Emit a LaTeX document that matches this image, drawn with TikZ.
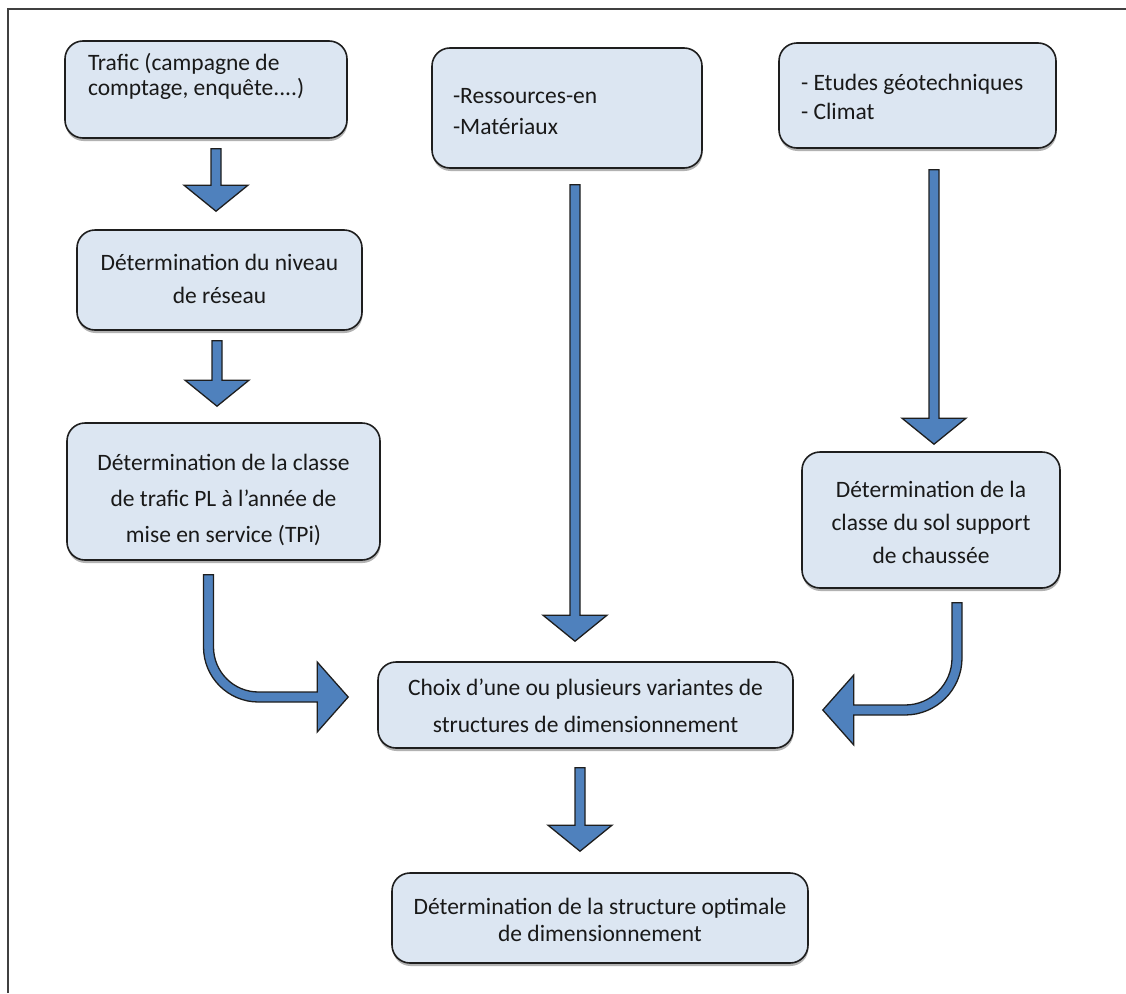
\documentclass[tikz,border=0pt]{standalone}
\usepackage{fontspec}
\setmainfont{Carlito}
\usetikzlibrary{calc,shadows}

\definecolor{fondboite}{RGB}{220,230,242}
\definecolor{bleufleche}{RGB}{79,129,189}
\definecolor{trait}{RGB}{30,30,30}

% hauteur, largeur, interligne, premiere ligne, alignement, texte
\newcommand{\bloc}[6]{\parbox[c][#1pt][t]{#2pt}{\fontsize{23.5}{#3}\selectfont#5\rule{0pt}{#4pt}#6}}

% fleche droite vers le bas
\newcommand{\flechebas}[2]{%
  \draw[fleche] let \p1=#1, \p2=#2 in
    (\x1-5pt,\y1) -- (\x1+5pt,\y1) -- (\x1+5pt,\y2+26pt) -- (\x1+32pt,\y2+26pt)
    -- (\x1,\y2) -- (\x1-32pt,\y2+26pt) -- (\x1-5pt,\y2+26pt) -- cycle;}

% fleche qui descend puis tourne vers la droite
\newcommand{\courbedroite}[3]{%
  \draw[fleche] let \p1=#1, \p2=#2 in
    (\x1-5pt,\y1) -- (\x1-5pt,\y2+#3pt) arc[start angle=180,end angle=270,radius=#3pt+5pt]
    -- (\x2-31pt,\y2-5pt) -- (\x2-31pt,\y2-35pt) -- (\x2,\y2) -- (\x2-31pt,\y2+35pt)
    -- (\x2-31pt,\y2+5pt) -- (\x1+#3pt,\y2+5pt) arc[start angle=270,end angle=180,radius=#3pt-5pt]
    -- (\x1+5pt,\y1) -- cycle;}

% fleche qui descend puis tourne vers la gauche
\newcommand{\courbegauche}[3]{%
  \draw[fleche] let \p1=#1, \p2=#2 in
    (\x1+5pt,\y1) -- (\x1+5pt,\y2+#3pt) arc[start angle=0,end angle=-90,radius=#3pt+5pt]
    -- (\x2+31pt,\y2-5pt) -- (\x2+31pt,\y2-35pt) -- (\x2,\y2) -- (\x2+31pt,\y2+35pt)
    -- (\x2+31pt,\y2+5pt) -- (\x1-#3pt,\y2+5pt) arc[start angle=-90,end angle=0,radius=#3pt-5pt]
    -- (\x1-5pt,\y1) -- cycle;}

\begin{document}
\begin{tikzpicture}[x=1pt,y=-1pt,
    boite/.style={draw=trait,line width=1.6pt,fill=fondboite,rounded corners=18pt,inner sep=0pt,
      text=black!90,drop shadow={shadow xshift=0.5pt,shadow yshift=-3pt,opacity=0.3,fill=black}},
    fleche/.style={draw=trait,line width=1.3pt,fill=bleufleche,line join=miter}]
        \useasboundingbox (0,0) rectangle (1126,993);
        \draw[line width=2.5pt,color=black!75] (8,993) -- (8,9) -- (1126,9);

        \node[boite,minimum width=282pt] at (206,89.5) (a) {\bloc{97}{236}{25}{29}{\raggedright}{Trafic (campagne de\\comptage, enquête....)}};
        \node[boite,minimum width=285pt] at (219.5,280) (b) {\bloc{100}{265}{33}{40}{\centering}{Détermination du niveau\\de réseau}};
        \node[boite,minimum width=313pt] at (223.5,491.5) (c) {\bloc{137}{290}{36}{47}{\centering}{Détermination de la classe\\de trafic PL à l’année de\\mise en service (TPi)}};
        \node[boite,minimum width=270pt] at (567,108) (d) {\bloc{120}{228}{31}{55}{\raggedright}{-Ressources-en\\-Matériaux}};
        \node[boite,minimum width=277pt] at (917.5,95.5) (e) {\bloc{105}{233}{29}{47}{\raggedright}{- Etudes géotechniques\\- Climat}};
        \node[boite,minimum width=258pt] at (931,520) (f) {\bloc{136}{240}{33}{45}{\centering}{Détermination de la\\classe du sol support\\de chaussée}};
        \node[boite,minimum width=415pt] at (585.5,705) (g) {\bloc{86}{400}{37}{33}{\centering}{Choix d’une ou plusieurs variantes de\\structures de dimensionnement}};
        \node[boite,minimum width=416pt] at (600,918) (h) {\bloc{90}{400}{27}{41}{\centering}{Détermination de la structure optimale\\de dimensionnement}};

        \flechebas{($(a.south)+(10,10)$)}{($(b.north)+(-3.5,-18)$)}
        \flechebas{($(b.south)+(-2.5,10)$)}{($(c.north)+(0,-16)$)}
        \flechebas{($(d.south)+(8,16)$)}{($(g.north)+(0,-20)$)}
        \flechebas{($(e.south)+(16.5,21)$)}{($(f.north)+(0,-7)$)}
        \flechebas{($(g.south)+(-5.5,19)$)}{($(h.north)+(0,-21)$)}
        \courbedroite{($(c.south)+(-15,14)$)}{($(g.west)+(-29,-8)$)}{50}
        \courbegauche{($(f.south)+(26,14)$)}{($(g.east)+(29,5)$)}{52}
    \end{tikzpicture}
\end{document}
